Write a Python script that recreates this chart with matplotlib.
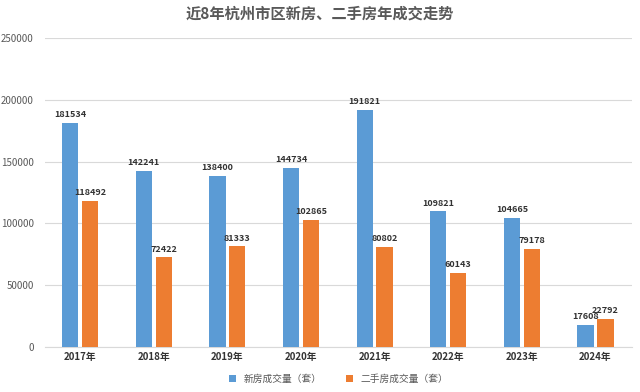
import numpy as np
from matplotlib import pyplot as plt

plt.rcParams['font.family'] = ['Noto Sans CJK SC', 'DejaVu Sans']

years = ['2017年', '2018年', '2019年', '2020年', '2021年', '2022年', '2023年', '2024年']
new_homes = [181534, 142241, 138400, 144734, 191821, 109821, 104665, 17608]
resale_homes = [118492, 72422, 81333, 102865, 80802, 60143, 79178, 22792]
series_names = ['新房成交量（套）', '二手房成交量（套）']

blue = '#5B9BD5'
orange = '#ED7D31'

fig = plt.figure(figsize=(6.4, 3.92), dpi=100, facecolor='w')
ax = fig.add_axes([0.07, 0.115, 0.918, 0.788])

x = np.arange(len(years))
w = 0.22
off = 0.135
b1 = ax.bar(x - off, new_homes, w, color=blue, label=series_names[0], zorder=3)
b2 = ax.bar(x + off, resale_homes, w, color=orange, label=series_names[1], zorder=3)

for bars in (b1, b2):
    for rect in bars:
        h = rect.get_height()
        ax.text(rect.get_x() + rect.get_width() / 2, h + 3000, str(int(h)),
                ha='center', va='bottom', fontsize=6.5, fontweight='bold', color='#333333')

ax.set_ylim(0, 250000)
ax.set_xlim(-0.48, len(years) - 0.5)
ax.set_yticks(np.arange(0, 250001, 50000))
ax.set_xticks(x)
ax.set_xticklabels(years)
ax.tick_params(axis='y', length=0, labelsize=7, colors='#595959', pad=8)
ax.tick_params(axis='x', length=0, labelsize=7, colors='#333333', pad=4)
for lbl in ax.get_xticklabels():
    lbl.set_fontweight('bold')
ax.grid(axis='y', color='#D9D9D9', linewidth=0.8, zorder=0)
for s in ['top', 'right', 'left']:
    ax.spines[s].set_visible(False)
ax.spines['bottom'].set_color('#D9D9D9')

fig.suptitle('近8年杭州市区新房、二手房年成交走势', x=0.5, y=0.985,
             fontsize=11, fontweight='bold', color='#595959')

ax.legend(loc='upper center', bbox_to_anchor=(0.5, -0.06), ncol=2, frameon=False,
          fontsize=7, handlelength=0.7, handleheight=0.7, columnspacing=2.5,
          labelcolor='#595959')

fig.savefig('out.png', dpi=100, facecolor='w')
